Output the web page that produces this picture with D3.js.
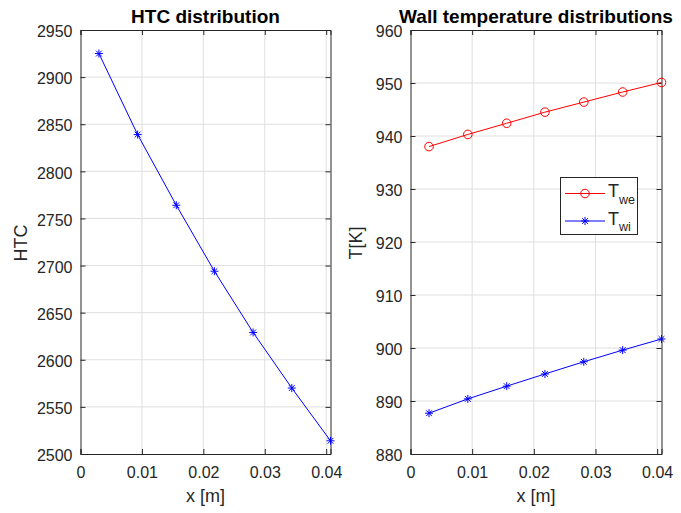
<!DOCTYPE html>
<html>
<head>
<meta charset="utf-8">
<script src="https://cdn.jsdelivr.net/npm/d3@7"></script>
<style>
  body { margin: 0; background: #fff; }
  svg text { font-family: "Liberation Sans", Arial, Helvetica, sans-serif; fill: #262626; }
</style>
</head>
<body>
<div id="chart"></div>
<script>
// Data
const xPos = [0.0030, 0.0093, 0.0156, 0.0218, 0.0281, 0.0344, 0.0407];
const htc = [2925, 2839, 2764, 2694, 2629, 2570, 2514];
const tWe = [938.0, 940.3, 942.4, 944.5, 946.4, 948.3, 950.1];
const tWi = [887.7, 890.4, 892.8, 895.1, 897.4, 899.6, 901.7];
const xTicks = [0, 0.01, 0.02, 0.03, 0.04];
const htcTicks = [2500, 2550, 2600, 2650, 2700, 2750, 2800, 2850, 2900, 2950];
const tTicks = [880, 890, 900, 910, 920, 930, 940, 950, 960];
const legendLabels = [{ base: 'T', sub: 'we' }, { base: 'T', sub: 'wi' }];

const width = 681, height = 513;
const plotTop = 30, plotBottom = 454;
const axisColor = '#262626', gridColor = '#dfdfdf';

const svg = d3.select('#chart').append('svg')
    .attr('width', width)
    .attr('height', height);

// asterisk marker = plus + cross, like MATLAB '*'
function asterisk(g, x, y, r, color) {
    const d = r * 0.72;
    g.append('path')
        .attr('d', `M${x - r},${y}L${x + r},${y}M${x},${y - r}L${x},${y + r}` +
            `M${x - d},${y - d}L${x + d},${y + d}M${x - d},${y + d}L${x + d},${y - d}`)
        .attr('stroke', color)
        .attr('stroke-width', 1)
        .attr('fill', 'none');
}

function drawPanel({ left, right, yDomain, yTicks, title, yLabel, labelOffset }) {
    const g = svg.append('g');
    const xScale = d3.scaleLinear().domain([0, 0.0407]).range([left, right]);
    const yScale = d3.scaleLinear().domain(yDomain).range([plotBottom, plotTop]);

    // Grid
    g.append('g').selectAll('line')
        .data(xTicks.slice(1))
        .join('line')
        .attr('x1', d => xScale(d)).attr('x2', d => xScale(d))
        .attr('y1', plotTop).attr('y2', plotBottom)
        .attr('stroke', gridColor);
    g.append('g').selectAll('line')
        .data(yTicks.slice(1, -1))
        .join('line')
        .attr('x1', left).attr('x2', right)
        .attr('y1', d => yScale(d)).attr('y2', d => yScale(d))
        .attr('stroke', gridColor);

    // Axes (box, inward ticks on all four sides)
    const tick = 5;
    const xAxis = d3.axisBottom(xScale).tickValues(xTicks).tickSize(-tick).tickPadding(13)
        .tickFormat(d => d === 0 ? '0' : d3.format('.2f')(d));
    const yAxis = d3.axisLeft(yScale).tickValues(yTicks).tickSize(-tick).tickPadding(8)
        .tickFormat(d3.format('d'));
    const styleAxis = sel => {
        sel.selectAll('path').attr('stroke', axisColor);
        sel.selectAll('line').attr('stroke', axisColor);
        sel.selectAll('text').attr('fill', axisColor).style('font-size', '16px')
            .style('font-family', '"Liberation Sans", Arial, Helvetica, sans-serif');
    };
    g.append('g').attr('transform', `translate(0,${plotBottom})`).call(xAxis).call(styleAxis);
    g.append('g').attr('transform', `translate(${left},0)`).call(yAxis).call(styleAxis)
        .selectAll('text').attr('dy', '0.42em');
    g.append('g').attr('transform', `translate(0,${plotTop})`)
        .call(d3.axisTop(xScale).tickValues(xTicks).tickSize(-tick).tickFormat(''))
        .call(styleAxis);
    g.append('g').attr('transform', `translate(${right},0)`)
        .call(d3.axisRight(yScale).tickValues(yTicks).tickSize(-tick).tickFormat(''))
        .call(styleAxis);

    // Title and labels
    g.append('text')
        .attr('x', (left + right) / 2)
        .attr('y', 22.5)
        .attr('text-anchor', 'middle')
        .style('font-size', '19px')
        .style('font-weight', 'bold')
        .style('fill', '#000')
        .text(title);
    g.append('text')
        .attr('x', (left + right) / 2)
        .attr('y', 502)
        .attr('text-anchor', 'middle')
        .style('font-size', '18px')
        .text('x [m]');
    g.append('text')
        .attr('transform', `translate(${left - labelOffset},${(plotTop + plotBottom) / 2 + 1}) rotate(-90)`)
        .attr('text-anchor', 'middle')
        .style('font-size', '18px')
        .text(yLabel);

    return { g, xScale, yScale };
}

// Left panel: HTC
const p1 = drawPanel({
    left: 80.5, right: 330.5, yDomain: [2500, 2950], yTicks: htcTicks,
    title: 'HTC distribution', yLabel: 'HTC', labelOffset: 53.5
});
const line1 = d3.line().x((d, i) => p1.xScale(xPos[i])).y(d => p1.yScale(d));
p1.g.append('path').datum(htc)
    .attr('d', line1).attr('fill', 'none').attr('stroke', '#0000ff').attr('stroke-width', 1);
htc.forEach((v, i) => asterisk(p1.g, p1.xScale(xPos[i]), p1.yScale(v), 4, '#0000ff'));

// Right panel: wall temperatures
const p2 = drawPanel({
    left: 410.5, right: 661.5, yDomain: [880, 960], yTicks: tTicks,
    title: 'Wall temperature distributions', yLabel: 'T[K]', labelOffset: 48.5
});
const line2 = d3.line().x((d, i) => p2.xScale(xPos[i])).y(d => p2.yScale(d));
p2.g.append('path').datum(tWe)
    .attr('d', line2).attr('fill', 'none').attr('stroke', '#ff0000').attr('stroke-width', 1);
p2.g.selectAll('circle').data(tWe).join('circle')
    .attr('cx', (d, i) => p2.xScale(xPos[i]))
    .attr('cy', d => p2.yScale(d))
    .attr('r', 4.3)
    .attr('fill', 'none')
    .attr('stroke', '#ff0000');
p2.g.append('path').datum(tWi)
    .attr('d', line2).attr('fill', 'none').attr('stroke', '#0000ff').attr('stroke-width', 1);
tWi.forEach((v, i) => asterisk(p2.g, p2.xScale(xPos[i]), p2.yScale(v), 4, '#0000ff'));

// Legend
const leg = svg.append('g').attr('transform', 'translate(560.5,177.5)');
leg.append('rect')
    .attr('width', 77).attr('height', 57)
    .attr('fill', '#fff').attr('stroke', axisColor);
const legColors = ['#ff0000', '#0000ff'];
legendLabels.forEach((lab, i) => {
    const y = 16 + i * 27.5;
    leg.append('line')
        .attr('x1', 4.5).attr('x2', 44.5).attr('y1', y).attr('y2', y)
        .attr('stroke', legColors[i]);
    if (i === 0) {
        leg.append('circle').attr('cx', 24.5).attr('cy', y).attr('r', 4.3)
            .attr('fill', 'none').attr('stroke', legColors[i]);
    } else {
        asterisk(leg, 24.5, y, 4, legColors[i]);
    }
    const t = leg.append('text').attr('x', 47.5).attr('y', y + 3.5).style('font-size', '18px');
    t.append('tspan').text(lab.base);
    t.append('tspan').attr('dy', 6.5).style('font-size', '12.5px').text(lab.sub);
});
</script>
</body>
</html>
